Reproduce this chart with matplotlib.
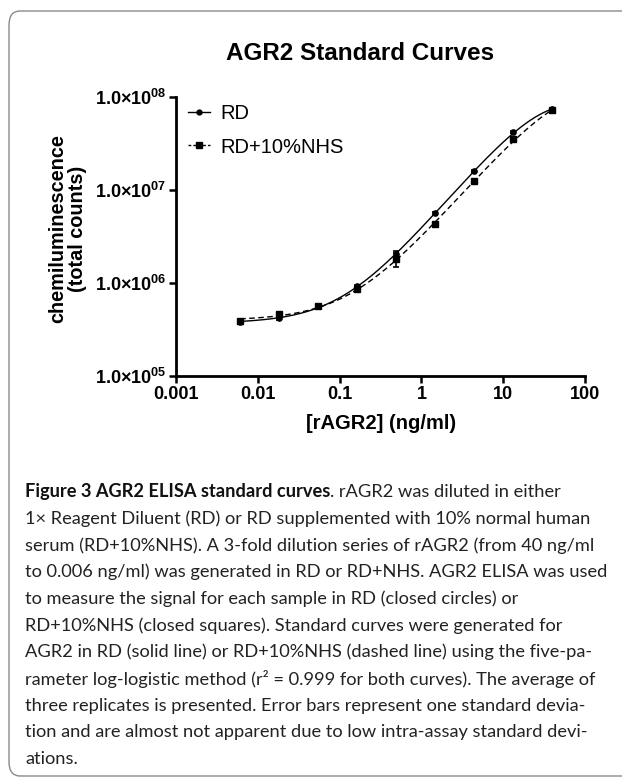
import numpy as np
import matplotlib
matplotlib.use("Agg")
import matplotlib.pyplot as plt
from matplotlib.patches import FancyBboxPatch
from matplotlib.lines import Line2D
from matplotlib.ticker import NullLocator

# ---------------- data ----------------
conc = [40.0, 13.33, 4.444, 1.481, 0.4938, 0.1646, 0.05487, 0.01829, 0.006097]
rd_mean = [7.4e7, 4.2e7, 1.6e7, 5.6e6, 2.05e6, 9.3e5, 5.6e5, 4.2e5, 3.8e5]
rd_sd = [1.5e6, 1.0e6, 4.0e5, 1.5e5, 1.5e5, 3.0e4, 2.0e4, 1.5e4, 1.2e4]
nhs_mean = [7.2e7, 3.5e7, 1.25e7, 4.3e6, 1.8e6, 8.6e5, 5.6e5, 4.6e5, 3.9e5]
nhs_sd = [1.5e6, 1.0e6, 5.0e5, 1.5e5, 3.0e5, 4.0e4, 3.0e4, 3.0e4, 2.5e4]

x_ticks = [0.001, 0.01, 0.1, 1, 10, 100]
x_tick_labels = ["0.001", "0.01", "0.1", "1", "10", "100"]
y_ticks = [1e5, 1e6, 1e7, 1e8]
y_tick_labels = [r"1.0×$10^{05}$", r"1.0×$10^{06}$", r"1.0×$10^{07}$", r"1.0×$10^{08}$"]

title = "AGR2 Standard Curves"
xlabel = "[rAGR2] (ng/ml)"
ylabel = "chemiluminescence\n(total counts)"
series_labels = ["RD", "RD+10%NHS"]

caption_bold = "Figure 3 AGR2 ELISA standard curves"
caption_lines = [
    ". rAGR2 was diluted in either",
    "1× Reagent Diluent (RD) or RD supplemented with 10% normal human",
    "serum (RD+10%NHS). A 3-fold dilution series of rAGR2 (from 40 ng/ml",
    "to 0.006 ng/ml) was generated in RD or RD+NHS. AGR2 ELISA was used",
    "to measure the signal for each sample in RD (closed circles) or",
    "RD+10%NHS (closed squares). Standard curves were generated for",
    "AGR2 in RD (solid line) or RD+10%NHS (dashed line) using the five-pa-",
    "rameter log-logistic method (r² = 0.999 for both curves). The average of",
    "three replicates is presented. Error bars represent one standard devia-",
    "tion and are almost not apparent due to low intra-assay standard devi-",
    "ations.",
]

# ---------------- five-parameter logistic fit ----------------
def model(p, xx):
    A, D, C, B, E = 10 ** p[0], 10 ** p[1], 10 ** p[2], p[3], 10 ** p[4]
    return D + (A - D) / (1 + (xx / C) ** B) ** E


def fit5pl(xs, ys):
    xs = np.asarray(xs); ly = np.log10(np.asarray(ys))

    def cost(p):
        m = model(p, xs)
        if np.any(~np.isfinite(m)) or np.any(m <= 0):
            return 1e9
        return float(np.sum((np.log10(m) - ly) ** 2))

    x0 = np.array([np.log10(min(ys)) - 0.05, np.log10(max(ys)) + 0.1, 1.0, 1.1, 0.0])
    n = len(x0)
    pts = [x0] + [x0 + 0.15 * np.eye(n)[i] for i in range(n)]
    vals = [cost(p) for p in pts]
    for _ in range(6000):
        order = np.argsort(vals)
        pts = [pts[i] for i in order]; vals = [vals[i] for i in order]
        c = np.mean(pts[:-1], axis=0)
        xr = c + (c - pts[-1]); fr = cost(xr)
        if fr < vals[0]:
            xe = c + 2 * (c - pts[-1]); fe = cost(xe)
            if fe < fr:
                pts[-1], vals[-1] = xe, fe
            else:
                pts[-1], vals[-1] = xr, fr
        elif fr < vals[-2]:
            pts[-1], vals[-1] = xr, fr
        else:
            xc = c + 0.5 * (pts[-1] - c); fc = cost(xc)
            if fc < vals[-1]:
                pts[-1], vals[-1] = xc, fc
            else:
                pts = [pts[0] + 0.5 * (p - pts[0]) for p in pts]
                vals = [cost(p) for p in pts]
    return pts[int(np.argmin(vals))]


p_rd = fit5pl(conc, rd_mean)
p_nhs = fit5pl(conc, nhs_mean)
xx = np.logspace(np.log10(min(conc)), np.log10(max(conc)), 300)

# ---------------- figure ----------------
W, H = 622, 782
plt.rcParams["font.family"] = ["Liberation Sans", "DejaVu Sans"]
plt.rcParams["mathtext.fontset"] = "custom"
plt.rcParams["mathtext.rm"] = "Liberation Sans:bold"
plt.rcParams["mathtext.it"] = "Liberation Sans:bold"
plt.rcParams["mathtext.bf"] = "Liberation Sans:bold"

fig = plt.figure(figsize=(W / 100, H / 100), dpi=100)


def fx(px):
    return px / W


def fy(py):
    return 1 - py / H


# frame
frame = FancyBboxPatch((fx(9), fy(776)), fx(660) - fx(9), fy(11) - fy(776),
                       boxstyle="round,pad=0,rounding_size=0.018",
                       transform=fig.transFigure, fill=False,
                       edgecolor="#8a8a8a", lw=1.0, clip_on=False)
fig.patches.append(frame)

ax_l, ax_r, ax_b, ax_t = 176, 585, 376, 97
ax = fig.add_axes([fx(ax_l), fy(ax_b), (ax_r - ax_l) / W, (ax_b - ax_t) / H])
ax.set_xscale("log"); ax.set_yscale("log")

ax.plot(xx, model(p_rd, xx), color="black", lw=1.0, ls="-")
ax.plot(xx, model(p_nhs, xx), color="black", lw=1.0, ls=(0, (4, 2.5)))
ax.errorbar(conc, rd_mean, yerr=rd_sd, fmt="o", color="black", ms=3.8,
            capsize=2.5, elinewidth=1.2, capthick=1.2)
ax.errorbar(conc, nhs_mean, yerr=nhs_sd, fmt="s", color="black", ms=4.2,
            capsize=2.5, elinewidth=1.2, capthick=1.2)

ax.set_xlim(1e-3, 100); ax.set_ylim(1e5, 1e8)
ax.xaxis.set_minor_locator(NullLocator()); ax.yaxis.set_minor_locator(NullLocator())
ax.set_xticks(x_ticks); ax.set_xticklabels(x_tick_labels)
ax.set_yticks(y_ticks); ax.set_yticklabels(y_tick_labels)
for s in ["top", "right"]:
    ax.spines[s].set_visible(False)
for s in ["left", "bottom"]:
    ax.spines[s].set_linewidth(2.0)
ax.tick_params(axis="both", which="major", direction="out", length=5, width=1.8,
               labelsize=13, pad=2)
for t in ax.get_xticklabels() + ax.get_yticklabels():
    t.set_fontweight("bold")

h1 = Line2D([], [], color="black", lw=1.0, marker="o", ms=3.5)
h2 = Line2D([], [], color="black", lw=1.0, ls=(0, (2, 1.5)), marker="s", ms=4)
leg = ax.legend([h1, h2], series_labels, loc="upper left", frameon=False,
                bbox_to_anchor=((188 - ax_l) / (ax_r - ax_l), 1 - 7 / (ax_b - ax_t)),
                borderaxespad=0.0, handlelength=1.1, handletextpad=0.5,
                labelspacing=0.72, fontsize=14.5, borderpad=0.0)

fig.text(fx(360), fy(53), title, ha="center", va="center", fontsize=17.5, fontweight="bold")
fig.text(fx(381), fy(423), xlabel, ha="center", va="center", fontsize=14.5, fontweight="bold")
fig.text(fx(68), fy(229), ylabel, ha="center", va="center", rotation=90,
         fontsize=14.3, fontweight="bold", linespacing=1.05)

# ---------------- caption ----------------
cap_family = ["Lato", "DejaVu Sans"]
renderer = fig.canvas.get_renderer()
widths = []
for line in caption_lines[1:]:
    probe = fig.text(0, 0, line, fontsize=10, family=cap_family)
    widths.append(probe.get_window_extent(renderer).width)
    probe.remove()
pb = fig.text(0, 0, caption_bold, fontsize=10, family=cap_family, fontweight="bold")
pr = fig.text(0, 0, caption_lines[0], fontsize=10, family=cap_family)
widths.append(pb.get_window_extent(renderer).width + pr.get_window_extent(renderer).width)
pb.remove(); pr.remove()
cap_size = 10 * 582 / max(widths)

x0 = 25
y0 = 492
step = 26.7
tb = fig.text(fx(x0), fy(y0), caption_bold, fontsize=cap_size, family=cap_family,
              fontweight="bold", ha="left", va="center", color="#111111")
bw = tb.get_window_extent(renderer).width
fig.text(fx(x0 + bw), fy(y0), caption_lines[0], fontsize=cap_size, family=cap_family,
         ha="left", va="center", color="#222222")
for i, line in enumerate(caption_lines[1:], start=1):
    fig.text(fx(x0), fy(y0 + i * step), line, fontsize=cap_size, family=cap_family,
             ha="left", va="center", color="#222222")

fig.savefig("out.png", dpi=100)
